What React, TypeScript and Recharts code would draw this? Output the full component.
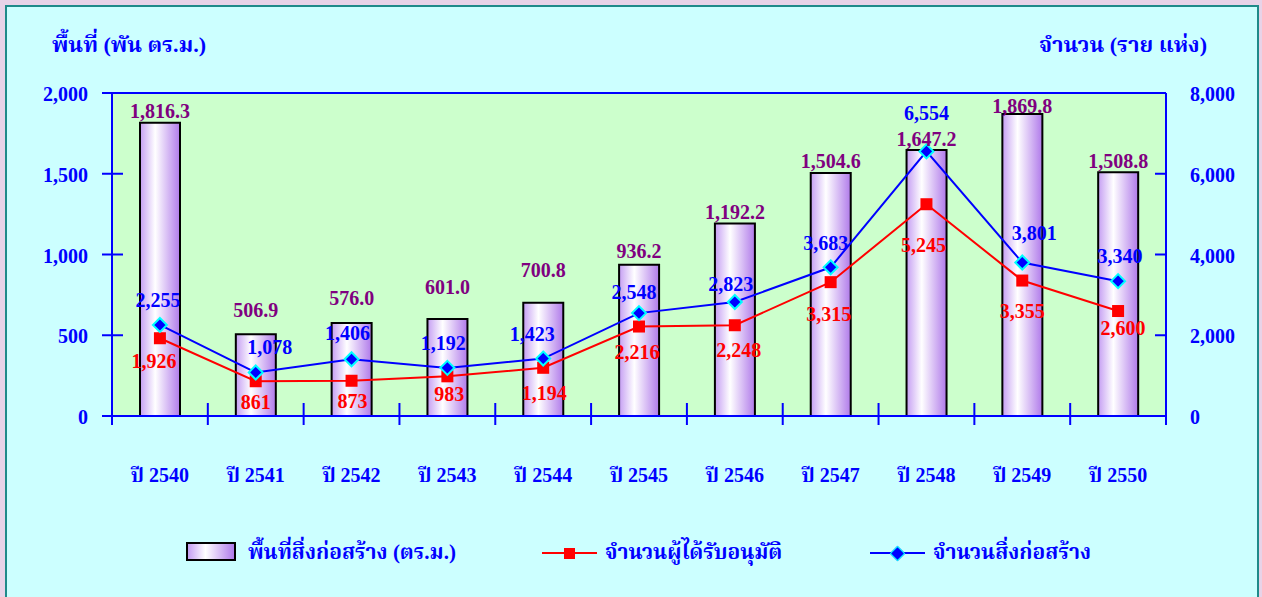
import React from 'react';
import {
  ComposedChart,
  Bar,
  Line,
  XAxis,
  YAxis,
  CartesianGrid,
  ReferenceLine,
  LabelList,
} from 'recharts';

// values
const years = ['ปี 2540', 'ปี 2541', 'ปี 2542', 'ปี 2543', 'ปี 2544', 'ปี 2545', 'ปี 2546', 'ปี 2547', 'ปี 2548', 'ปี 2549', 'ปี 2550'];
const areaValues = [1816.3, 506.9, 576.0, 601.0, 700.8, 936.2, 1192.2, 1504.6, 1647.2, 1869.8, 1508.8];
const approvedValues = [1926, 861, 873, 983, 1194, 2216, 2248, 3315, 5245, 3355, 2600];
const buildingValues = [2255, 1078, 1406, 1192, 1423, 2548, 2823, 3683, 6554, 3801, 3340];
const leftTicks = [0, 500, 1000, 1500, 2000];
const rightTicks = [0, 2000, 4000, 6000, 8000];

// label nudges (px) so labels sit where the original put them
const barLabelGap = [12, 24, 25, 32, 33, 14, 11, 12, 11, 8, 11];
const blueLabelShift = [[-2, -25], [14, -25], [-4, -26], [-4, -25], [-11, -25], [-5, -21], [-4, -18], [-5, -24], [0, -38], [12, -30], [2, -25]];
const redLabelShift = [[-6, 23], [0, 21], [1, 20], [2, 18], [1, 25], [-2, 25], [4, 25], [-2, 32], [-3, 41], [0, 30], [5, 17]];

const data = years.map((year, i) => ({
  year,
  area: areaValues[i],
  approved: approvedValues[i],
  buildings: buildingValues[i],
}));

const FONT = '"Liberation Serif", "Times New Roman", "Noto Serif Thai", "Noto Sans Thai", serif';
const BLUE = '#0000FF';
const RED = '#FF0000';
const PURPLE = '#800080';

const W = 1262;
const H = 597;
const PLOT_LEFT = 112;
const PLOT_RIGHT = 1166;
const BAND = (PLOT_RIGHT - PLOT_LEFT) / years.length;

const fmtInt = (v: number) => v.toLocaleString('en-US');
const fmtOne = (v: number) =>
  v.toLocaleString('en-US', { minimumFractionDigits: 1, maximumFractionDigits: 1 });

const txt = { fontFamily: FONT, fontWeight: 700, fontSize: 20 } as const;

function XTick(props: any) {
  const { x, y, payload, index } = props;
  const left = x - BAND / 2;
  return (
    <g>
      <line x1={left} x2={left} y1={y - 13} y2={y + 9} stroke={BLUE} strokeWidth={2} />
      {index === years.length - 1 && (
        <line x1={x + BAND / 2} x2={x + BAND / 2} y1={y - 13} y2={y + 9} stroke={BLUE} strokeWidth={2} />
      )}
      <text x={x} y={y + 59} textAnchor="middle" dominantBaseline="central" fill={BLUE} style={txt}>
        {payload.value}
      </text>
    </g>
  );
}

function LeftTick(props: any) {
  const { x, y, payload } = props;
  return (
    <g>
      <line x1={x - 10} x2={x + 11} y1={y} y2={y} stroke={BLUE} strokeWidth={2} />
      <text x={x - 24} y={y + 1} textAnchor="end" dominantBaseline="central" fill={BLUE} style={txt}>
        {fmtInt(payload.value)}
      </text>
    </g>
  );
}

function RightTick(props: any) {
  const { x, y, payload } = props;
  return (
    <g>
      <line x1={x - 11} x2={x} y1={y} y2={y} stroke={BLUE} strokeWidth={2} />
      <text x={x + 24} y={y + 1} textAnchor="start" dominantBaseline="central" fill={BLUE} style={txt}>
        {fmtInt(payload.value)}
      </text>
    </g>
  );
}

function BarLabel(props: any) {
  const { x, y, width, value, index } = props;
  return (
    <text
      x={x + width / 2}
      y={y - barLabelGap[index]}
      textAnchor="middle"
      dominantBaseline="central"
      fill={PURPLE}
      style={txt}
    >
      {fmtOne(value)}
    </text>
  );
}

function makePointLabel(shift: number[][], color: string) {
  return function PointLabel(props: any) {
    const { x, y, value, index } = props;
    const [dx, dy] = shift[index];
    return (
      <text x={x + dx} y={y + dy} textAnchor="middle" dominantBaseline="central" fill={color} style={txt}>
        {fmtInt(value)}
      </text>
    );
  };
}

function SquareDot(props: any) {
  const { cx, cy, index } = props;
  return <rect key={`sq-${index}`} x={cx - 6} y={cy - 6} width={12} height={12} fill={RED} />;
}

function DiamondDot(props: any) {
  const { cx, cy, index } = props;
  const r = 7;
  return (
    <polygon
      key={`dm-${index}`}
      points={`${cx},${cy - r} ${cx + r},${cy} ${cx},${cy + r} ${cx - r},${cy}`}
      fill={BLUE}
      stroke="#00FFFF"
      strokeWidth={2}
    />
  );
}

const legendText: React.CSSProperties = {
  position: 'absolute',
  top: 553,
  transform: 'translateY(-50%)',
  color: BLUE,
  fontFamily: FONT,
  fontWeight: 700,
  fontSize: 21,
  whiteSpace: 'nowrap',
};

export default function App() {
  return (
    <div style={{ position: 'absolute', left: 0, top: 0, width: W, height: H, overflow: 'hidden', background: '#E8D3E8' }}>
      <div
        style={{
          position: 'absolute',
          left: 5,
          top: 5,
          width: W - 12,
          height: H + 10,
          border: '2px solid #1F8A8A',
          background: '#CCFFFF',
        }}
      />
      <div style={{ position: 'absolute', left: 0, top: 0 }}>
        <ComposedChart width={W} height={H} data={data} margin={{ top: 93, right: 0, bottom: 0, left: 0 }}>
          <defs>
            <linearGradient id="barFill" x1="0" y1="0" x2="1" y2="0">
              <stop offset="0%" stopColor="#C59EF3" />
              <stop offset="38%" stopColor="#FFFFFF" />
              <stop offset="100%" stopColor="#B07AEA" />
            </linearGradient>
          </defs>
          <CartesianGrid yAxisId="left" fill="#CCFFCC" horizontal={false} vertical={false} />
          <XAxis
            dataKey="year"
            height={181}
            axisLine={{ stroke: BLUE, strokeWidth: 2 }}
            tickLine={false}
            tickSize={0}
            tickMargin={0}
            tick={<XTick />}
            interval={0}
          />
          <YAxis
            yAxisId="left"
            width={112}
            domain={[0, 2000]}
            ticks={leftTicks}
            axisLine={{ stroke: BLUE, strokeWidth: 2 }}
            tickLine={false}
            tickSize={0}
            tickMargin={0}
            tick={<LeftTick />}
          />
          <YAxis
            yAxisId="right"
            orientation="right"
            width={96}
            domain={[0, 8000]}
            ticks={rightTicks}
            axisLine={{ stroke: BLUE, strokeWidth: 2 }}
            tickLine={false}
            tickSize={0}
            tickMargin={0}
            tick={<RightTick />}
          />
          <ReferenceLine yAxisId="left" y={2000} stroke={BLUE} strokeWidth={2} />
          <Bar
            yAxisId="left"
            dataKey="area"
            barSize={40}
            fill="url(#barFill)"
            stroke="#000000"
            strokeWidth={2}
            isAnimationActive={false}
          >
            <LabelList dataKey="area" content={<BarLabel />} />
          </Bar>
          <Line
            yAxisId="right"
            dataKey="approved"
            stroke={RED}
            strokeWidth={2}
            dot={SquareDot}
            activeDot={false}
            isAnimationActive={false}
          >
            <LabelList dataKey="approved" content={makePointLabel(redLabelShift, RED)} />
          </Line>
          <Line
            yAxisId="right"
            dataKey="buildings"
            stroke={BLUE}
            strokeWidth={2}
            dot={DiamondDot}
            activeDot={false}
            isAnimationActive={false}
          >
            <LabelList dataKey="buildings" content={makePointLabel(blueLabelShift, BLUE)} />
          </Line>
        </ComposedChart>
      </div>

      <div style={{ ...legendText, top: 46, left: 52, fontSize: 22 }}>พื้นที่ (พัน ตร.ม.)</div>
      <div style={{ ...legendText, top: 46, right: W - 1207, fontSize: 22 }}>จำนวน (ราย แห่ง)</div>

      {/* legend */}
      <div
        style={{
          position: 'absolute',
          left: 186,
          top: 542,
          width: 50,
          height: 19,
          border: '2px solid #000',
          background: 'linear-gradient(to right, #C59EF3 0%, #FFFFFF 38%, #B07AEA 100%)',
          boxSizing: 'border-box',
        }}
      />
      <div style={{ ...legendText, left: 248 }}>พื้นที่สิ่งก่อสร้าง (ตร.ม.)</div>

      <div style={{ position: 'absolute', left: 542, top: 552, width: 55, height: 2, background: RED }} />
      <div style={{ position: 'absolute', left: 564, top: 548, width: 11, height: 11, background: RED }} />
      <div style={{ ...legendText, left: 605 }}>จำนวนผู้ได้รับอนุมัติ</div>

      <div style={{ position: 'absolute', left: 870, top: 552, width: 55, height: 2, background: BLUE }} />
      <div
        style={{
          position: 'absolute',
          left: 892,
          top: 548,
          width: 9,
          height: 9,
          background: BLUE,
          border: '1.5px solid #00FFFF',
          transform: 'rotate(45deg)',
        }}
      />
      <div style={{ ...legendText, left: 933 }}>จำนวนสิ่งก่อสร้าง</div>
    </div>
  );
}
